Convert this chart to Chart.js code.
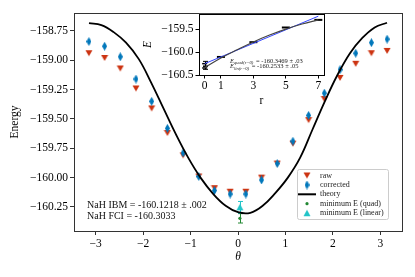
<!DOCTYPE html>
<html>
<head>
<meta charset="utf-8">
<script src="https://cdn.jsdelivr.net/npm/chart.js@4.4.1/dist/chart.umd.min.js"></script>
<style>
  html, body { margin:0; padding:0; background:#fff; }
  #wrap { position:relative; width:415px; height:277px; }
  #main { position:absolute; left:0; top:0; }
  #inset { position:absolute; left:140px; top:5px; }
</style>
</head>
<body>
<div id="wrap">
  <canvas id="main" width="415" height="277"></canvas>
  <canvas id="inset" width="195" height="105"></canvas>
</div>
<script>
// ---- data ----
const theta = [-3.1416, -2.8109, -2.4802, -2.1495, -1.8189, -1.4882, -1.1575, -0.8268, -0.4961, -0.1654,
               0.1654, 0.4961, 0.8268, 1.1575, 1.4882, 1.8189, 2.1495, 2.4802, 2.8109, 3.1416];
const rawE = [-158.94, -158.98, -159.07, -159.24, -159.41, -159.62, -159.81, -159.99, -160.09, -160.12,
              -160.12, -160.00, -159.88, -159.71, -159.51, -159.33, -159.15, -159.03, -158.94, -158.92];
const correctedE = [-158.84, -158.88, -158.97, -159.16, -159.35, -159.58, -159.79, -159.99, -160.11, -160.14,
                    -160.14, -160.02, -159.88, -159.69, -159.47, -159.28, -159.08, -158.94, -158.85, -158.82];
const theoryTheta = [-3.14, -2.88, -2.62, -2.36, -2.09, -1.83, -1.57, -1.31, -1.05, -0.79, -0.52, -0.26, 0,
                     0.26, 0.52, 0.79, 1.05, 1.31, 1.57, 1.83, 2.09, 2.36, 2.62, 2.88, 3.14];
const theoryE = [-158.684, -158.70, -158.76, -158.85, -158.99, -159.19, -159.41, -159.63, -159.83, -160.00, -160.14, -160.24, -160.295,
                 -160.30, -160.24, -160.13, -160.00, -159.83, -159.59, -159.35, -159.13, -158.94, -158.81, -158.72, -158.68];
const minQuad = { theta: 0.04, e: -160.3469, err: 0.04 };
const minLin = { theta: 0.04, e: -160.2533, err: 0.05 };
const xTicks = [-3, -2, -1, 0, 1, 2, 3];
const yTicks = [-160.25, -160.0, -159.75, -159.5, -159.25, -159.0, -158.75];

// inset: extrapolation in r
const rPts = [1, 3, 5, 7];
const ePts = [-160.107, -159.786, -159.466, -159.30];
const rFit = [0, 1, 2, 3, 4, 5, 6, 7];
const quadFit = [-160.34, -160.13, -159.95, -159.78, -159.63, -159.50, -159.39, -159.30];
const rLin = [0, 7];
const linFit = [-160.2533, -159.22];
const r0E = [-160.3469, -160.2533];
const r0Err = [0.03, 0.05];
const insetXTicks = [0, 1, 3, 5, 7];
const insetYTicks = [-160.5, -160.0, -159.5];

const SERIF = "'Liberation Serif', 'DejaVu Serif', serif";
const RED = "#cc3311", BLUE = "#0077bb", GREEN = "#228833", CYAN = "#22c4c8";

function marker(w, h, color, pts){
  const c = document.createElement("canvas");
  c.width = w; c.height = h;
  const g = c.getContext("2d");
  g.fillStyle = color;
  g.beginPath();
  pts.forEach((p,i)=> i ? g.lineTo(p[0],p[1]) : g.moveTo(p[0],p[1]));
  g.closePath(); g.fill();
  return c;
}
const triDown = marker(8, 8, RED, [[0.5,1],[7.5,1],[4,7]]);
const thinDiamond = marker(5, 9, BLUE, [[2.5,0],[5,4.5],[2.5,9],[0,4.5]]);
const triUp = marker(8, 8, CYAN, [[4,0.5],[7.5,7],[0.5,7]]);

const minus = (v, d) => (v < 0 ? "\u2212" : "") + Math.abs(v).toFixed(d);

// vertical error bars with caps, drawn under markers
const errorBars = {
  id: "errorBars",
  beforeDatasetsDraw(chart){
    const ctx = chart.ctx, xs = chart.scales.x, ys = chart.scales.y;
    chart.data.datasets.forEach(ds => {
      if(!ds.errs) return;
      ctx.save();
      ctx.strokeStyle = ds.errColor; ctx.lineWidth = 1;
      ds.data.forEach((p, j) => {
        const px = Math.round(xs.getPixelForValue(p.x)) + 0.5;
        const y1 = ys.getPixelForValue(p.y - ds.errs[j]), y2 = ys.getPixelForValue(p.y + ds.errs[j]);
        const c = ds.cap || 0;
        ctx.beginPath();
        ctx.moveTo(px, y1); ctx.lineTo(px, y2);
        ctx.moveTo(px - c, y1); ctx.lineTo(px + c, y1);
        ctx.moveTo(px - c, y2); ctx.lineTo(px + c, y2);
        ctx.stroke();
      });
      ctx.restore();
    });
  }
};

const frame = {
  id: "frame",
  beforeDraw(chart, args, opts){
    if(!opts.fill) return;
    const a = chart.chartArea, ctx = chart.ctx;
    ctx.save(); ctx.fillStyle = opts.fill;
    ctx.fillRect(a.left, a.top, a.right - a.left, a.bottom - a.top);
    ctx.restore();
  },
  afterDraw(chart, args, opts){
    const a = chart.chartArea, ctx = chart.ctx;
    ctx.save(); ctx.strokeStyle = opts.color || "#333"; ctx.lineWidth = 1;
    ctx.strokeRect(Math.round(a.left) + 0.5, Math.round(a.top) + 0.5, Math.round(a.right - a.left), Math.round(a.bottom - a.top));
    ctx.restore();
  }
};

// annotation + legend for the main axes
const mainDecor = {
  id: "mainDecor",
  afterDraw(chart){
    const ctx = chart.ctx;
    ctx.save();
    ctx.fillStyle = "#111";
    ctx.font = "10px " + SERIF;
    ctx.textBaseline = "middle";
    ctx.fillText("NaH IBM = -160.1218 \u00b1 .002", 87, 205);
    ctx.fillText("NaH FCI = -160.3033", 87, 216);

    // legend box
    const bx = 297, by = 169, bw = 91, bh = 50;
    ctx.fillStyle = "rgba(255,255,255,0.85)";
    ctx.strokeStyle = "#cccccc";
    ctx.beginPath(); ctx.roundRect(bx + 0.5, by + 0.5, bw, bh, 2); ctx.fill(); ctx.stroke();
    const rows = [175.5, 185, 194.3, 203.7, 213.2];
    ctx.drawImage(triDown, 303, rows[0] - 4);
    ctx.drawImage(thinDiamond, 304.5, rows[1] - 4.5);
    ctx.strokeStyle = "#000"; ctx.lineWidth = 2;
    ctx.beginPath(); ctx.moveTo(298, rows[2]); ctx.lineTo(316, rows[2]); ctx.stroke();
    ctx.fillStyle = GREEN;
    ctx.beginPath(); ctx.arc(307, rows[3], 1.6, 0, Math.PI * 2); ctx.fill();
    ctx.drawImage(triUp, 303, rows[4] - 4);
    ctx.fillStyle = "#222";
    ctx.font = "8px " + SERIF;
    ["raw", "corrected", "theory", "minimum E (quad)", "minimum E (linear)"].forEach((t, i) => ctx.fillText(t, 320, rows[i]));
    ctx.restore();
  }
};

new Chart(document.getElementById("main"), {
  type: "scatter",
  data: {
    datasets: [
      { label: "theory", data: theoryTheta.map((t, i) => ({x: t, y: theoryE[i]})), showLine: true,
        borderColor: "#000", borderWidth: 1.8, pointRadius: 0, tension: 0.4, order: 0 },
      { label: "raw", data: theta.map((t, i) => ({x: t, y: rawE[i]})), pointStyle: triDown, pointRadius: 4, order: 2 },
      { label: "corrected", data: theta.map((t, i) => ({x: t, y: correctedE[i]})), pointStyle: thinDiamond, pointRadius: 4, order: 1 },
      { label: "minimum E (quad)", data: [{x: minQuad.theta, y: minQuad.e}], pointStyle: "circle", pointRadius: 1.6,
        backgroundColor: GREEN, borderWidth: 0, errs: [minQuad.err], errColor: GREEN, cap: 2.5, order: 1 },
      { label: "minimum E (linear)", data: [{x: minLin.theta, y: minLin.e}], pointStyle: triUp, pointRadius: 4,
        errs: [minLin.err], errColor: CYAN, cap: 2.5, order: 1 },
    ]
  },
  options: {
    responsive: false, animation: false, devicePixelRatio: 1,
    layout: { padding: { left: 0, right: 13, top: 13, bottom: 0 } },
    plugins: { legend: { display: false }, tooltip: { enabled: false }, frame: { color: "#333" } },
    scales: {
      x: {
        type: "linear", min: -3.456, max: 3.456,
        afterBuildTicks: s => { s.ticks = xTicks.map(v => ({value: v})); },
        afterFit: s => { s.height = 46; },
        ticks: { color: "#000", font: { family: SERIF, size: 11.5 }, padding: 2, callback: v => minus(v, 0) },
        grid: { drawOnChartArea: false, drawTicks: true, tickLength: 4, color: "#333" },
        border: { display: false },
        title: { display: true, text: "\u03b8", color: "#000", font: { family: SERIF, size: 11.5, style: "italic" }, padding: { top: 0, bottom: 13 } }
      },
      y: {
        min: -160.455, max: -158.597,
        afterBuildTicks: s => { s.ticks = yTicks.map(v => ({value: v})); },
        afterFit: s => { s.width = 74; },
        ticks: { color: "#000", font: { family: SERIF, size: 11.5 }, padding: 2, callback: v => minus(v, 2) },
        grid: { drawOnChartArea: false, drawTicks: true, tickLength: 4, color: "#333" },
        border: { display: false },
        title: { display: true, text: "Energy", color: "#000", font: { family: SERIF, size: 11.5 }, padding: { top: 8, bottom: 0 } }
      }
    }
  },
  plugins: [errorBars, frame, mainDecor]
});

// inset text
const insetDecor = {
  id: "insetDecor",
  afterDraw(chart){
    const ctx = chart.ctx;
    ctx.save();
    ctx.fillStyle = "#222";
    ctx.textBaseline = "alphabetic";
    const line = (y, sub, rest) => {
      let x = 90;
      ctx.font = "italic 6.5px " + SERIF; ctx.fillText("E", x, y); x += ctx.measureText("E").width;
      ctx.font = "italic 4.6px " + SERIF; ctx.fillText(sub, x, y + 1.5); x += ctx.measureText(sub).width;
      ctx.font = "6.5px " + SERIF; ctx.fillText(rest, x + 1, y);
    };
    line(57.5, "quad(r=0)", " = -160.3469 \u00b1 .03");
    line(63, "lin(r=0)", " = -160.2533 \u00b1 .05");
    ctx.restore();
  }
};

new Chart(document.getElementById("inset"), {
  type: "scatter",
  data: {
    datasets: [
      { label: "quad", data: rFit.map((r, i) => ({x: r, y: quadFit[i]})), showLine: true,
        borderColor: "#444", borderWidth: 1.2, pointRadius: 0, tension: 0.4 },
      { label: "lin", data: rLin.map((r, i) => ({x: r, y: linFit[i]})), showLine: true,
        borderColor: "#3344ff", borderWidth: 1, pointRadius: 0 },
      { label: "pts", data: rPts.map((r, i) => ({x: r, y: ePts[i]})), pointStyle: "line",
        pointRadius: 4, borderColor: "#000", borderWidth: 2 },
      { label: "r0", data: r0E.map(v => ({x: 0, y: v})), pointStyle: "line", pointRadius: 2.5,
        borderColor: "#000", borderWidth: 1.5, errs: r0Err, errColor: "#000", cap: 2.5 }
    ]
  },
  options: {
    responsive: false, animation: false, devicePixelRatio: 1,
    layout: { padding: { left: 0, right: 11, top: 8, bottom: 0 } },
    plugins: { legend: { display: false }, tooltip: { enabled: false }, frame: { color: "#000", fill: "#fff" } },
    scales: {
      x: {
        type: "linear", min: -0.35, max: 7.35,
        afterBuildTicks: s => { s.ticks = insetXTicks.map(v => ({value: v})); },
        afterFit: s => { s.height = 35; },
        ticks: { color: "#000", font: { family: SERIF, size: 11.5 }, padding: 1 },
        grid: { drawOnChartArea: false, drawTicks: true, tickLength: 3.5, color: "#000" },
        border: { display: false },
        title: { display: true, text: "r", color: "#000", font: { family: SERIF, size: 11.5 }, padding: { top: 0, bottom: 2 } }
      },
      y: {
        min: -160.5, max: -159.17,
        afterBuildTicks: s => { s.ticks = insetYTicks.map(v => ({value: v})); },
        afterFit: s => { s.width = 59; },
        ticks: { color: "#000", font: { family: SERIF, size: 11.5 }, padding: 2, callback: v => minus(v, 1) },
        grid: { drawOnChartArea: false, drawTicks: true, tickLength: 3.5, color: "#000" },
        border: { display: false },
        title: { display: true, text: "E", color: "#000", font: { family: SERIF, size: 11.5, style: "italic" }, padding: { top: 1, bottom: 0 } }
      }
    }
  },
  plugins: [errorBars, frame, insetDecor]
});
</script>
</body>
</html>
